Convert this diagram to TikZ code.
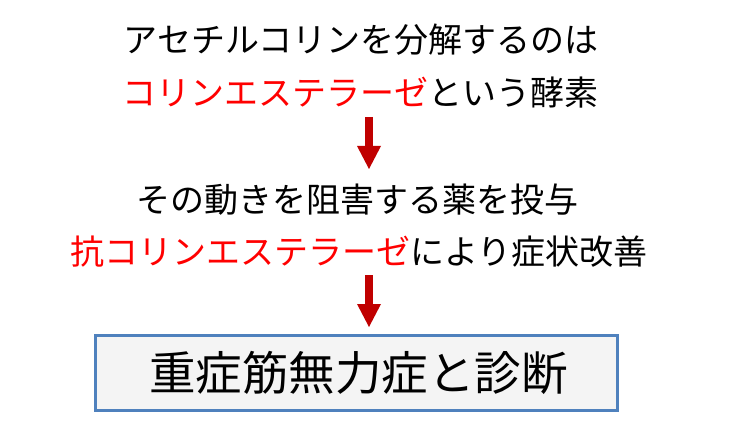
\documentclass[tikz,border=0pt]{standalone}
\usepackage{fontspec}
\setmainfont{Noto Sans CJK JP}
\usetikzlibrary{arrows.meta}
\definecolor{rougefl}{HTML}{C00000}
\definecolor{bleucadre}{HTML}{4F81BD}
\definecolor{fondcadre}{HTML}{F4F4F4}
\begin{document}
\begin{tikzpicture}[x=1pt,y=-1pt,
  ligne/.style={inner sep=0pt,font=\fontsize{34}{40}\selectfont},
  fleche/.style={draw=rougefl,line width=8pt,-{Triangle[width=24pt,length=23pt,line width=0pt]}},
  cadre/.style={draw=bleucadre,fill=fondcadre,line width=3pt,inner sep=0pt,
    minimum width=521.5pt,minimum height=74.5pt,font=\fontsize{46.5}{50}\selectfont}]
\useasboundingbox (0,0) rectangle (730,430);
\pgfmathsetmacro{\xfl}{369}
\pgfmathsetmacro{\retrait}{7}
  \node[ligne] (acetyl) at (361,40) {アセチルコリンを分解するのは};
  \node[ligne] (enzyme) at (360,93) {\textcolor{red}{コリンエステラーゼ}という酵素};
  \node[ligne] (blocage) at (357,200) {その動きを阻害する薬を投与};
  \node[ligne] (amelior) at (359,252) {\textcolor{red}{抗コリンエステラーゼ}により症状改善};
  \node[cadre] (diag) at (356.25,372.75) {\hspace{4pt}重症筋無力症と診断};
  \coordinate (hautun) at (\xfl,117);
  \coordinate (basun) at (\xfl,169);
  \coordinate (hautdeux) at (\xfl,275);
 \draw[fleche] (hautun) -- (basun);
 \draw[fleche,shorten >=\retrait pt] (hautdeux) -- (hautdeux |- diag.north);
\end{tikzpicture}
\end{document}
